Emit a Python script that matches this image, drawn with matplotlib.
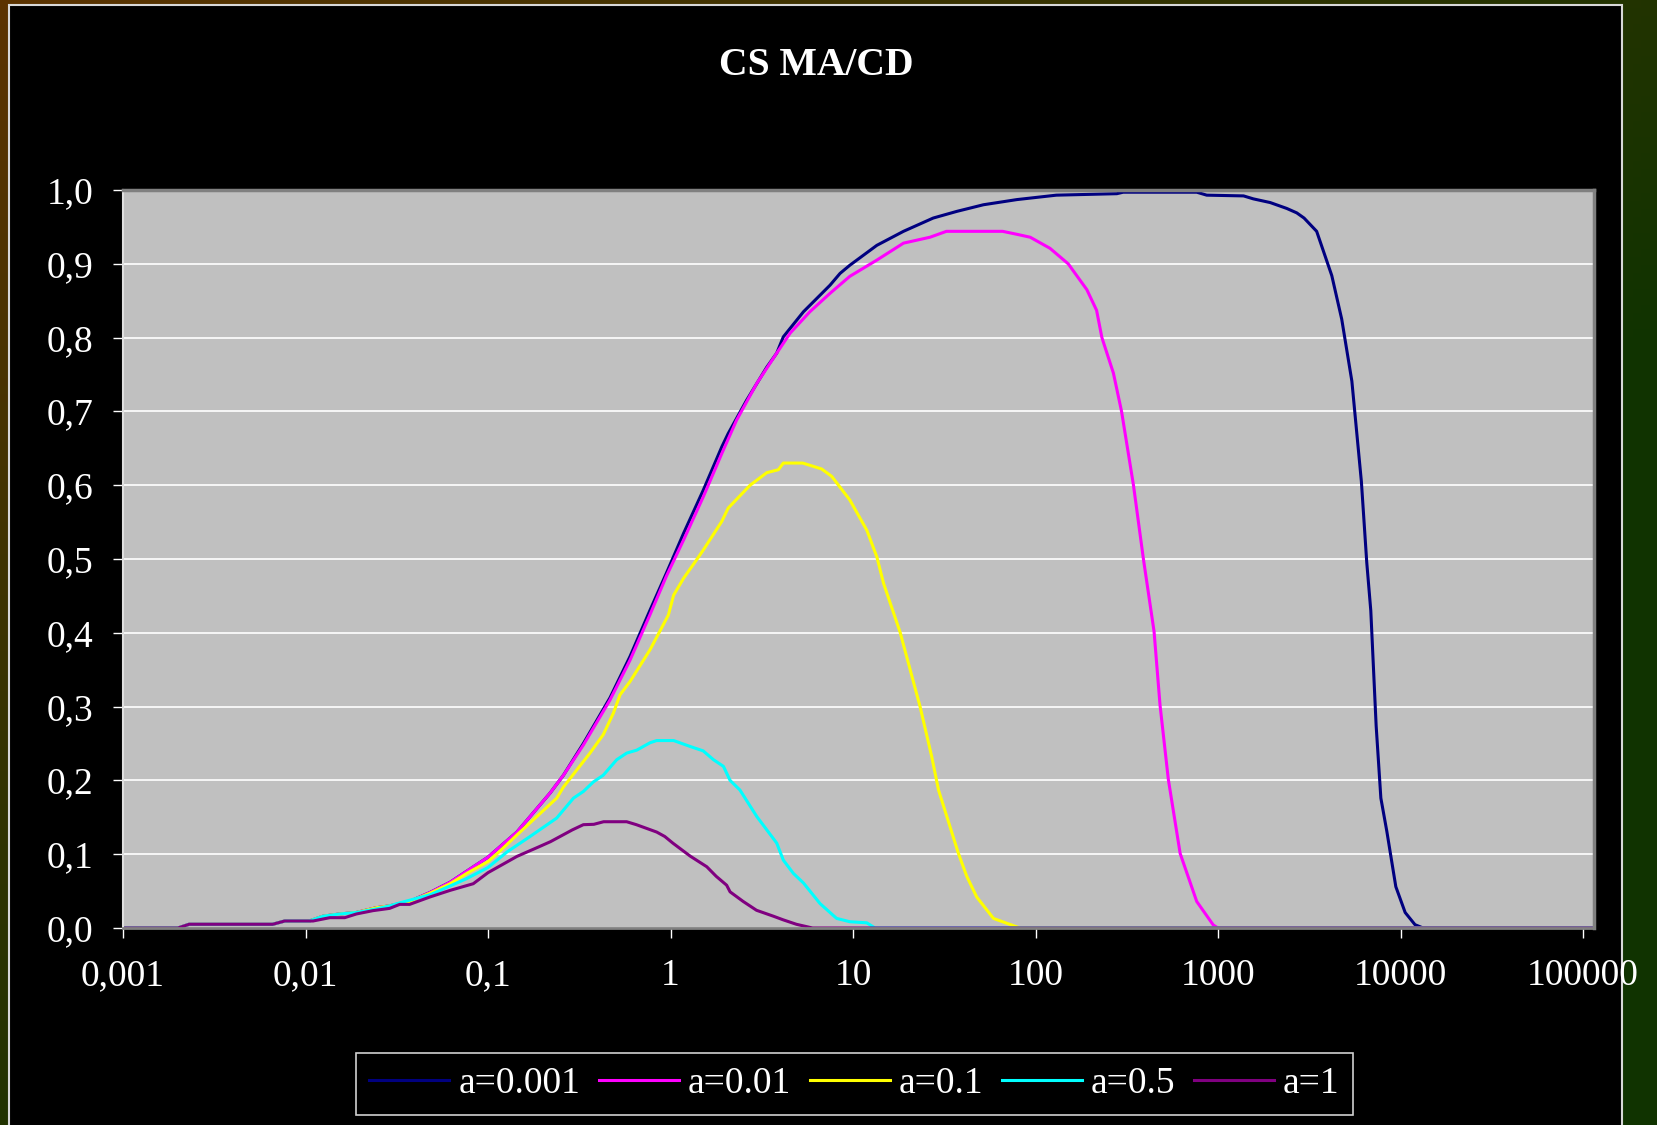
import numpy as np
import matplotlib.pyplot as plt
from matplotlib.patches import Rectangle

plt.rcParams['font.family'] = ['Liberation Serif', 'DejaVu Serif']

# ---- data (x = load on log axis, y = throughput) ----
labels = ['a=0.001', 'a=0.01', 'a=0.1', 'a=0.5', 'a=1']
colors = ['#000080', '#FF00FF', '#FFFF00', '#00FFFF', '#800080']

x_a0001 = [0.001, 0.002, 0.0023, 0.0066, 0.0077, 0.0105, 0.0125, 0.0154, 0.019, 0.0245,
           0.0289, 0.0372, 0.048, 0.062, 0.0765, 0.1, 0.144, 0.219, 0.259, 0.333, 0.466,
           0.6, 0.77, 0.95, 1.18, 1.51, 1.91, 2.07, 2.61, 3.37, 3.82, 4.15, 5.35, 7.48,
           8.49, 9.6, 13.5, 18.9, 27.5, 37, 51.8, 79, 130, 279, 302, 765, 867, 1380, 1560,
           1930, 2380, 2700, 2960, 3470, 4200, 4760, 5410, 6100, 6530, 6870, 7350, 7800,
           8410, 9420, 10600, 12000, 13300, 112000]
y_a0001 = [0, 0, 0.005, 0.005, 0.0095, 0.0095, 0.016, 0.019, 0.021, 0.0275,
           0.03, 0.036, 0.048, 0.062, 0.077, 0.096, 0.13, 0.183, 0.207, 0.25, 0.312,
           0.368, 0.43, 0.481, 0.535, 0.593, 0.652, 0.67, 0.715, 0.76, 0.779, 0.801, 0.835, 0.871,
           0.887, 0.898, 0.925, 0.944, 0.962, 0.971, 0.98, 0.987, 0.993, 0.995, 0.997, 0.997, 0.993, 0.992, 0.988,
           0.983, 0.975, 0.969, 0.962, 0.944, 0.884, 0.825, 0.741, 0.605, 0.495, 0.43, 0.274, 0.176,
           0.131, 0.056, 0.021, 0.0045, 0, 0]

x_a001 = [0.001, 0.002, 0.0023, 0.0066, 0.0077, 0.0105, 0.0125, 0.0154, 0.019, 0.0245,
          0.0289, 0.0372, 0.048, 0.062, 0.0765, 0.1, 0.144, 0.219, 0.259, 0.333, 0.466,
          0.6, 0.77, 0.95, 1.18, 1.51, 1.91, 2.3, 2.97, 3.82, 4.52, 5.8, 7.48, 9.6, 13.5,
          18.9, 26.4, 32.5, 66, 78.9, 93.5, 120, 151, 191, 216, 231, 267, 296, 344, 390,
          446, 481, 534, 620, 764, 942, 1000, 112000]
y_a001 = [0, 0, 0.005, 0.005, 0.0095, 0.0095, 0.016, 0.019, 0.021, 0.0275,
          0.03, 0.036, 0.048, 0.062, 0.077, 0.096, 0.13, 0.183, 0.207, 0.248, 0.309,
          0.363, 0.424, 0.477, 0.526, 0.584, 0.643, 0.688, 0.738, 0.779, 0.806, 0.835, 0.86, 0.883, 0.905,
          0.928, 0.936, 0.944, 0.944, 0.94, 0.936, 0.921, 0.9, 0.865, 0.837, 0.8, 0.752, 0.7, 0.6, 0.5,
          0.402, 0.302, 0.2015, 0.101, 0.036, 0.004, 0, 0]

x_a01 = [0.001, 0.002, 0.0023, 0.0066, 0.0077, 0.0105, 0.0125, 0.0154, 0.019, 0.0245,
         0.0289, 0.0372, 0.048, 0.062, 0.0765, 0.1, 0.116, 0.144, 0.185, 0.238, 0.259,
         0.306, 0.362, 0.428, 0.486, 0.529, 0.6, 0.772, 0.973, 1.04, 1.18, 1.39, 1.51,
         1.91, 2.07, 2.73, 3.37, 3.9, 4.15, 5.3, 6.73, 7.64, 9.6, 11.9, 13.5, 14.7, 18.1,
         23.3, 27, 29.4, 37.8, 42, 47.6, 58.8, 82, 112000]
y_a01 = [0, 0, 0.005, 0.005, 0.0095, 0.0095, 0.016, 0.019, 0.021, 0.0275,
         0.03, 0.036, 0.047, 0.06, 0.074, 0.09, 0.104, 0.126, 0.151, 0.176, 0.191,
         0.214, 0.237, 0.262, 0.291, 0.316, 0.334, 0.377, 0.424, 0.451, 0.474, 0.499, 0.512,
         0.551, 0.569, 0.6, 0.617, 0.621, 0.63, 0.63, 0.622, 0.612, 0.58, 0.539, 0.503, 0.467, 0.401,
         0.3, 0.232, 0.187, 0.101, 0.07, 0.042, 0.013, 0, 0]

x_a05 = [0.001, 0.002, 0.0023, 0.0066, 0.0077, 0.0105, 0.0125, 0.0154, 0.019, 0.0245,
         0.0289, 0.0328, 0.048, 0.062, 0.0765, 0.1, 0.127, 0.17, 0.238, 0.294, 0.333,
         0.378, 0.428, 0.507, 0.575, 0.653, 0.772, 0.84, 1.04, 1.28, 1.51, 1.72, 1.95,
         2.12, 2.4, 2.97, 3.82, 4.15, 4.71, 5.35, 6.6, 8.13, 9.6, 11.9, 13.2, 112000]
y_a05 = [0, 0, 0.005, 0.005, 0.0095, 0.0095, 0.016, 0.019, 0.021, 0.026,
         0.03, 0.034, 0.045, 0.057, 0.067, 0.082, 0.103, 0.124, 0.149, 0.176, 0.185,
         0.198, 0.207, 0.228, 0.237, 0.241, 0.251, 0.254, 0.254, 0.246, 0.24, 0.228, 0.219,
         0.2, 0.187, 0.151, 0.115, 0.092, 0.074, 0.061, 0.033, 0.013, 0.0085, 0.007, 0, 0]

x_a1 = [0.001, 0.002, 0.0023, 0.0066, 0.0077, 0.011, 0.0136, 0.0164, 0.019, 0.0234,
        0.0289, 0.0328, 0.0372, 0.048, 0.062, 0.083, 0.1, 0.144, 0.19, 0.22, 0.29,
        0.333, 0.38, 0.43, 0.575, 0.65, 0.84, 0.93, 1.03, 1.28, 1.58, 1.78, 2.03, 2.12,
        2.5, 2.96, 3.66, 4.15, 4.9, 6.0, 112000]
y_a1 = [0, 0, 0.005, 0.005, 0.0095, 0.0095, 0.014, 0.014, 0.019, 0.0235,
        0.0266, 0.032, 0.032, 0.042, 0.051, 0.06, 0.075, 0.097, 0.11, 0.117, 0.133,
        0.14, 0.1405, 0.144, 0.144, 0.14, 0.13, 0.124, 0.115, 0.0975, 0.083, 0.07, 0.058, 0.049,
        0.036, 0.024, 0.016, 0.011, 0.005, 0, 0]

xticks = [0.001, 0.01, 0.1, 1, 10, 100, 1000, 10000, 100000]
xtick_labels = ['0,001', '0,01', '0,1', '1', '10', '100', '1000', '10000', '100000']
yticks = [0.0, 0.1, 0.2, 0.3, 0.4, 0.5, 0.6, 0.7, 0.8, 0.9, 1.0]
ytick_labels = ['0,0', '0,1', '0,2', '0,3', '0,4', '0,5', '0,6', '0,7', '0,8', '0,9', '1,0']

W, H = 1658, 1125
fig = plt.figure(figsize=(W / 100, H / 100), dpi=100)

# background: brown in the top-left corner fading into dark green
bg = fig.add_axes([0, 0, 1, 1])
gx, gy = np.meshgrid(np.linspace(0, 1, 200), np.linspace(0, 1, 140))
t = np.clip((gx + gy) / 1.3, 0, 1)[..., None]
c0 = np.array([0x5C, 0x33, 0x00]) / 255
c1 = np.array([0x10, 0x33, 0x00]) / 255
bg.imshow(c0 * (1 - t) + c1 * t, extent=[0, 1, 0, 1], aspect='auto', origin='upper')
bg.set_xlim(0, 1)
bg.set_ylim(0, 1)
bg.axis('off')

panel = Rectangle((9 / W, -0.02), (1622 - 9) / W, (H - 5) / H + 0.02,
                  transform=bg.transAxes, facecolor='black', edgecolor='#d8d8d8', linewidth=1.5)
bg.add_patch(panel)
# the last x label spills past the panel and is cut a little further right
label_clip = Rectangle((0, 0), 1641 / W, 1, transform=bg.transAxes,
                       facecolor='none', edgecolor='none')
bg.add_patch(label_clip)

# plot area
ax = fig.add_axes([123 / W, 1 - 928 / H, (1594 - 123) / W, (928 - 190) / H])
ax.set_facecolor('#C0C0C0')

series = [(x_a0001, y_a0001), (x_a001, y_a001), (x_a01, y_a01), (x_a05, y_a05), (x_a1, y_a1)]
for (xs, ys), lab, col in zip(series, labels, colors):
    ax.plot(xs, ys, color=col, linewidth=2.2, label=lab, solid_joinstyle='round')

ax.set_xscale('log')
ax.set_xlim(0.001, 114800)
ax.set_ylim(0, 1.0)
ax.set_xticks(xticks)
ax.set_xticklabels(xtick_labels)
ax.set_yticks(yticks)
ax.set_yticklabels(ytick_labels)
ax.minorticks_off()
ax.tick_params(axis='both', colors='white', labelcolor='white', labelsize=27,
               length=7.5, width=1, direction='out')
ax.tick_params(axis='x', pad=14.5)
ax.tick_params(axis='y', pad=14)

ax.grid(axis='y', color='white', linewidth=1.2)
ax.set_axisbelow(True)

for side in ['top', 'right']:
    ax.spines[side].set_color('#808080')
    ax.spines[side].set_linewidth(2.5)
ax.spines['bottom'].set_color('#808080')
ax.spines['bottom'].set_linewidth(2)
ax.spines['left'].set_color('#e0e0e0')
ax.spines['left'].set_linewidth(1.5)

for lab in ax.get_xticklabels():
    lab.set_clip_path(label_clip)

fig.text(816 / W, 1 - 75 / H, 'CS MA/CD', color='white', fontsize=28.5,
         fontweight='bold', ha='center', va='baseline')

leg = ax.legend(loc='center', bbox_to_anchor=(854.5 / W, 1 - 1084 / H),
                bbox_transform=fig.transFigure, ncol=5, fontsize=27,
                frameon=True, fancybox=False, facecolor='black', edgecolor='#d0d0d0',
                handlelength=2.13, handletextpad=0.24, columnspacing=0.5,
                borderpad=0.36, labelcolor='white')
leg.get_frame().set_linewidth(1.2)
leg.get_frame().set_alpha(1)

fig.savefig('out.png', dpi=100)
